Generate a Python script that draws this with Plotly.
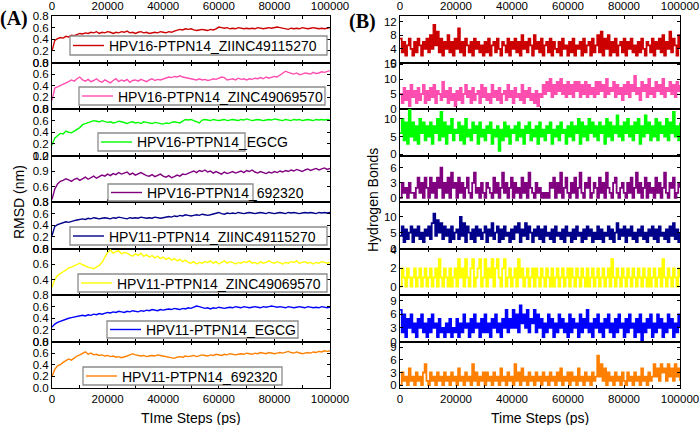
import numpy as np
import plotly.graph_objects as go

W, H = 700, 425

names = ["HPV16-PTPN14_ZIINC49115270", "HPV16-PTPN14_ZINC49069570", "HPV16-PTPN14_EGCG",
         "HPV16-PTPN14_692320", "HPV11-PTPN14_ZIINC49115270", "HPV11-PTPN14_ZINC49069570",
         "HPV11-PTPN14_EGCG", "HPV11-PTPN14_692320"]
colors = ["#CC0000", "#FF4DB0", "#00FF00", "#800080", "#00008B", "#FFFF00", "#0000FF", "#FF8000"]

# ---- RMSD (nm), sampled every 1000 ps ----
rmsd_red = [0.20,0.38,0.41,0.43,0.42,0.45,0.44,0.47,0.46,0.48,0.50,0.49,0.51,0.50,0.52,0.51,0.53,0.50,0.52,0.51,0.53,0.52,0.50,0.52,0.51,0.53,0.52,0.54,0.51,0.52,0.50,0.52,0.53,0.51,0.52,0.50,0.51,0.52,0.51,0.53,0.52,0.51,0.53,0.52,0.54,0.55,0.57,0.56,0.58,0.57,0.58,0.56,0.55,0.56,0.57,0.56,0.55,0.57,0.56,0.58,0.61,0.60,0.59,0.60,0.58,0.59,0.58,0.60,0.59,0.58,0.59,0.58,0.59,0.58,0.60,0.59,0.58,0.59,0.60,0.59,0.60,0.61,0.60,0.59,0.58,0.57,0.59,0.58,0.59,0.58,0.60,0.59,0.58,0.59,0.60,0.59,0.58,0.59,0.58,0.59,0.60]
rmsd_pink = [0.15,0.36,0.38,0.40,0.42,0.45,0.47,0.50,0.48,0.52,0.55,0.50,0.48,0.51,0.47,0.49,0.52,0.48,0.46,0.50,0.48,0.45,0.49,0.52,0.47,0.50,0.48,0.51,0.46,0.49,0.50,0.48,0.51,0.49,0.47,0.50,0.52,0.49,0.51,0.50,0.52,0.53,0.55,0.54,0.56,0.55,0.57,0.55,0.54,0.53,0.52,0.51,0.50,0.52,0.50,0.51,0.49,0.50,0.52,0.51,0.53,0.55,0.54,0.50,0.51,0.52,0.50,0.53,0.51,0.52,0.50,0.52,0.51,0.53,0.52,0.54,0.52,0.55,0.53,0.54,0.56,0.55,0.58,0.62,0.65,0.63,0.61,0.60,0.62,0.59,0.60,0.62,0.61,0.60,0.63,0.61,0.62,0.64,0.63,0.64,0.66]
rmsd_green = [0.18,0.30,0.34,0.38,0.37,0.42,0.40,0.39,0.42,0.45,0.48,0.53,0.55,0.57,0.58,0.60,0.59,0.58,0.60,0.59,0.57,0.58,0.56,0.57,0.59,0.58,0.57,0.55,0.57,0.58,0.56,0.57,0.55,0.58,0.57,0.56,0.55,0.57,0.56,0.55,0.54,0.56,0.55,0.57,0.58,0.57,0.56,0.59,0.62,0.61,0.62,0.60,0.58,0.56,0.61,0.62,0.61,0.60,0.62,0.61,0.60,0.61,0.62,0.60,0.61,0.62,0.61,0.60,0.62,0.61,0.63,0.62,0.60,0.61,0.62,0.61,0.60,0.61,0.62,0.61,0.63,0.62,0.61,0.60,0.62,0.61,0.60,0.62,0.61,0.62,0.60,0.61,0.62,0.61,0.60,0.62,0.61,0.62,0.61,0.62,0.61]
rmsd_purple = [0.35,0.55,0.65,0.70,0.72,0.75,0.73,0.70,0.74,0.76,0.72,0.75,0.78,0.74,0.77,0.80,0.76,0.79,0.82,0.80,0.84,0.81,0.85,0.83,0.87,0.84,0.86,0.88,0.83,0.86,0.82,0.85,0.87,0.84,0.81,0.80,0.83,0.79,0.82,0.84,0.80,0.78,0.81,0.77,0.79,0.82,0.80,0.84,0.83,0.86,0.88,0.90,0.87,0.91,0.89,0.92,0.88,0.90,0.86,0.89,0.87,0.84,0.88,0.85,0.87,0.89,0.86,0.88,0.90,0.87,0.91,0.89,0.92,0.88,0.86,0.89,0.87,0.85,0.88,0.86,0.89,0.87,0.90,0.88,0.91,0.89,0.92,0.90,0.93,0.91,0.89,0.92,0.94,0.91,0.93,0.95,0.92,0.94,0.96,0.93,0.95]
rmsd_navy = [0.22,0.38,0.41,0.43,0.44,0.46,0.45,0.47,0.48,0.49,0.50,0.51,0.50,0.52,0.51,0.53,0.52,0.51,0.52,0.53,0.52,0.51,0.53,0.52,0.54,0.53,0.52,0.51,0.53,0.52,0.53,0.52,0.54,0.53,0.52,0.53,0.52,0.54,0.53,0.52,0.53,0.54,0.55,0.54,0.56,0.55,0.57,0.56,0.58,0.57,0.56,0.57,0.58,0.57,0.59,0.58,0.57,0.58,0.59,0.60,0.62,0.60,0.59,0.61,0.60,0.61,0.60,0.62,0.61,0.60,0.61,0.62,0.61,0.60,0.61,0.62,0.61,0.60,0.62,0.61,0.60,0.61,0.62,0.61,0.60,0.62,0.61,0.62,0.61,0.60,0.61,0.62,0.61,0.62,0.61,0.60,0.62,0.61,0.62,0.61,0.62]
rmsd_yellow = [0.30,0.40,0.45,0.48,0.50,0.52,0.55,0.56,0.58,0.60,0.61,0.59,0.57,0.56,0.55,0.54,0.56,0.58,0.62,0.68,0.75,0.78,0.74,0.76,0.77,0.73,0.75,0.74,0.72,0.70,0.73,0.71,0.74,0.70,0.72,0.69,0.71,0.68,0.70,0.67,0.69,0.66,0.68,0.65,0.67,0.64,0.66,0.63,0.65,0.62,0.61,0.63,0.60,0.62,0.61,0.63,0.62,0.64,0.61,0.63,0.60,0.62,0.64,0.61,0.63,0.62,0.60,0.62,0.61,0.63,0.62,0.64,0.61,0.62,0.60,0.63,0.61,0.62,0.64,0.62,0.61,0.63,0.62,0.60,0.62,0.61,0.63,0.62,0.64,0.61,0.62,0.63,0.61,0.62,0.60,0.62,0.61,0.63,0.62,0.61,0.62]
rmsd_blue = [0.25,0.30,0.33,0.35,0.37,0.39,0.40,0.41,0.42,0.43,0.44,0.45,0.44,0.46,0.45,0.47,0.46,0.48,0.47,0.49,0.50,0.49,0.51,0.50,0.52,0.51,0.50,0.52,0.51,0.53,0.52,0.51,0.53,0.52,0.54,0.53,0.55,0.54,0.53,0.55,0.54,0.55,0.56,0.55,0.57,0.56,0.55,0.57,0.56,0.58,0.57,0.59,0.61,0.60,0.58,0.57,0.58,0.56,0.58,0.57,0.59,0.58,0.57,0.58,0.59,0.58,0.60,0.59,0.58,0.60,0.59,0.58,0.59,0.60,0.59,0.58,0.60,0.59,0.60,0.61,0.60,0.59,0.60,0.59,0.58,0.60,0.59,0.58,0.59,0.60,0.59,0.58,0.60,0.59,0.58,0.59,0.58,0.60,0.59,0.58,0.59]
rmsd_orange = [0.20,0.32,0.38,0.40,0.44,0.47,0.50,0.48,0.52,0.55,0.57,0.60,0.62,0.58,0.60,0.57,0.58,0.56,0.57,0.55,0.56,0.54,0.55,0.53,0.54,0.52,0.53,0.55,0.57,0.59,0.57,0.56,0.55,0.56,0.54,0.55,0.56,0.55,0.57,0.56,0.55,0.54,0.53,0.52,0.51,0.53,0.54,0.53,0.55,0.54,0.55,0.56,0.54,0.55,0.57,0.56,0.55,0.57,0.56,0.58,0.57,0.56,0.58,0.57,0.59,0.58,0.57,0.58,0.59,0.58,0.60,0.59,0.58,0.60,0.59,0.61,0.60,0.59,0.61,0.60,0.59,0.60,0.61,0.60,0.62,0.63,0.61,0.60,0.62,0.60,0.59,0.60,0.61,0.60,0.62,0.61,0.63,0.62,0.64,0.63,0.64]

# ---- Hydrogen bonds (count) ----
hb_red = [7,3,6,2,5,7,4,2,6,3,7,5,2,6,4,7, 3,8,4,11,5,9,3,7,2,6,4,8,3,6,2,7, 4,10,3,6,2,7,5,3,6,2,7,4,6,3,5,2, 6,3,7,2,5,6,3,7,4,2,6,5,3,7,2,6, 4,7,3,6,2,8,4,6,3,7,5,2,8,4,6,3, 7,2,5,6,3,7,2,6,4,3,6,2,7,4,5,2, 6,3,7,2,5,4,6,2,7,3,5,6,2,7,3,5, 8,3,9,2,7,4,8,2,6,3,7,2,5,6,3,7, 2,6,4,7,3,5,2,6,3,7,4,2,6,5,3,7, 2,6,4,7,3,8,2,6,4,9,3,7,5,2,8,4]
hb_pink = [5,2,7,3,6,1,8,4,6,2,7,3,5,8,2,6, 3,7,4,8,2,6,5,3,9,4,6,2,7,3,5,1, 6,3,7,2,5,8,4,6,2,7,3,5,6,2,8,4, 7,3,5,2,8,4,6,3,7,2,5,6,3,8,4,6, 2,7,4,5,3,8,2,6,4,7,3,5,2,6,1,5, 4,8,5,9,6,10,4,8,5,9,6,10,5,8,4,9, 5,8,4,9,6,9,4,8,5,9,4,8,5,7,4,9, 5,9,6,8,4,10,5,7,6,9,4,8,5,7,3,8, 5,9,4,8,6,11,5,7,3,9,6,8,4,10,5,7, 4,9,6,8,5,10,4,7,6,9,5,8,4,9,6,8]
hb_green = [6,10,4,9,3,13,5,9,4,8,3,10,6,9,4,8, 5,9,3,8,6,10,4,12,5,9,3,8,6,10,4,7, 6,9,4,8,3,10,5,7,4,9,6,8,3,9,5,7, 4,8,6,9,3,7,5,8,1,7,4,9,5,8,3,7, 6,8,4,9,5,7,3,8,6,9,4,7,5,8,3,9, 5,7,4,8,6,9,3,7,5,8,4,9,6,7,3,8, 5,9,4,8,6,10,3,9,5,8,4,10,6,9,5,8, 4,9,6,8,3,10,5,9,4,8,6,11,5,8,4,9, 6,10,5,8,4,9,6,10,3,8,5,11,6,9,4,8, 5,10,4,9,6,8,5,10,4,9,6,12,5,8,4,9]
hb_purple = [0,3,1,2,0,3,1,1,0,2,4,1,3,0,4,2, 0,4,1,3,0,4,2,6,0,3,1,4,0,5,2,3, 0,4,1,3,0,2,4,1,0,3,5,1,2,0,3,1, 0,3,2,1,0,4,1,3,0,2,5,1,3,0,2,4, 0,3,1,2,0,4,1,3,0,5,2,1,0,3,1,2, 0,1,0,1,0,3,2,4,0,3,1,5,0,2,4,1, 0,3,1,4,0,2,5,1,0,3,2,4,0,1,3,2, 0,4,1,3,0,5,2,1,0,3,4,1,0,2,3,1, 0,3,1,4,0,2,5,1,3,0,2,4,0,3,1,2, 0,4,1,3,0,2,5,1,0,3,2,4,0,1,3,2]
hb_navy = [4,7,2,6,3,5,7,2,6,4,7,3,5,2,6,4, 7,3,8,11,4,9,5,8,3,7,4,6,2,7,3,5, 6,3,10,4,8,2,7,5,3,6,2,7,4,6,3,5, 7,2,6,4,8,3,5,7,2,6,3,7,4,5,2,6, 3,7,5,8,2,6,4,8,3,7,5,2,6,4,7,3, 6,2,7,4,5,3,6,2,7,4,5,3,6,2,7,4, 5,2,6,3,7,4,5,2,6,3,7,4,6,2,5,3, 7,3,6,2,5,4,7,3,6,2,5,8,3,6,4,7, 2,6,4,7,3,5,2,6,4,7,3,5,2,6,4,7, 3,6,2,7,4,5,3,6,2,7,4,8,3,6,2,5]
hb_yellow = [0,2,1,0,2,1,0,1,2,0,1,2,0,1,2,0, 1,2,0,1,2,0,3,1,0,2,1,0,2,0,1,2, 0,3,1,2,0,3,1,0,2,3,0,1,2,3,0,1, 3,0,2,1,3,0,2,3,1,0,2,3,0,1,2,0, 1,2,0,3,1,2,0,1,2,0,1,2,0,2,1,0, 2,1,0,2,1,0,2,0,1,2,0,1,2,0,1,2, 0,2,1,0,2,1,0,2,1,0,2,0,1,2,0,1, 2,0,1,2,0,1,2,0,3,1,0,2,1,0,2,1, 0,2,1,0,2,1,0,2,1,0,2,1,0,2,0,1, 2,0,1,2,0,3,1,0,2,1,0,2,1,0,2,1]
hb_blue = [7,2,6,1,5,3,6,2,4,1,5,3,6,2,4,1, 5,2,6,3,4,1,5,2,3,1,4,2,5,1,3,2, 5,1,4,2,6,3,4,1,5,2,6,3,4,1,5,2, 6,2,4,1,5,3,6,2,4,1,5,3,7,2,5,3, 7,3,6,2,8,4,6,3,7,2,5,4,7,2,6,3, 5,1,4,2,6,3,5,1,4,2,6,3,5,2,4,1, 6,2,5,3,4,1,6,2,5,3,7,2,4,1,5,3, 6,2,4,1,5,3,6,2,4,1,5,2,6,3,4,1, 5,2,6,3,4,1,5,2,6,0,4,2,5,3,6,1, 4,2,6,3,5,1,4,2,6,3,5,1,4,2,6,3]
hb_orange = [0,3,1,2,0,4,1,2,0,3,1,2,0,3,5,1, 0,3,1,2,0,3,1,2,0,3,1,2,0,3,1,2, 0,4,1,2,0,3,1,2,0,5,1,3,0,2,1,3, 0,3,1,2,0,3,1,2,0,4,1,2,0,3,1,2, 0,5,1,3,0,4,1,2,0,3,1,2,0,3,1,2, 0,3,1,2,0,3,1,2,0,3,1,4,0,2,1,3, 0,3,1,2,0,4,1,2,0,3,1,2,0,3,1,2, 7,2,5,1,4,0,3,1,2,0,3,1,2,0,3,1, 0,3,1,2,0,3,1,2,0,4,1,2,0,3,1,2, 5,2,4,1,5,3,4,1,5,2,4,1,5,2,4,1]

rmsd_series = [rmsd_red, rmsd_pink, rmsd_green, rmsd_purple, rmsd_navy, rmsd_yellow, rmsd_blue, rmsd_orange]
hb_series = [hb_red, hb_pink, hb_green, hb_purple, hb_navy, hb_yellow, hb_blue, hb_orange]

rmsd_ranges = [[0, 0.8], [0, 0.8], [0, 0.8], [0.3, 1.2], [0, 0.8], [0.2, 0.8], [0, 0.8], [0, 0.8]]
rmsd_ticks = [[0, 0.2, 0.4, 0.6, 0.8]] * 3 + [[0.3, 0.6, 0.9, 1.2]] + [[0, 0.2, 0.4, 0.6, 0.8]] + \
             [[0.4, 0.6, 0.8]] + [[0, 0.2, 0.4, 0.6, 0.8]] * 2
hb_ranges = [[0, 13.6], [0, 15.5], [-0.3, 12.8], [-0.8, 8.4], [0, 14.7], [-0.9, 4.15], [0, 10.3], [-0.7, 10.4]]
hb_ticks = [[0, 4, 8, 12], [0, 5, 10, 15], [0, 5, 10], [0, 3, 6], [0, 5, 10], [0, 2, 4], [0, 3, 6, 9], [0, 3, 6, 9]]

# legend boxes (left, top, right, bottom) in px
legend_box = [(70, 36, 327, 55), (79, 87, 325, 105), (98, 133, 245, 151), (108, 184, 253, 201),
              (70, 227, 327, 245), (78, 274, 327, 292), (107, 321, 298, 338), (83, 367, 282, 385)]

FONT = "Liberation Sans, Arial, sans-serif"
top_px, bot_px = 16, 388
ph = (bot_px - top_px) / 8.0
L_dom = [52 / W, 330 / W]
R_dom = [400 / W, 680 / W]


def py(p):
    return 1 - p / H


def px(p):
    return p / W


fig = go.Figure()
layout = dict(
    width=W, height=H, margin=dict(l=0, r=0, t=0, b=0, autoexpand=False),
    paper_bgcolor="white", plot_bgcolor="white",
    font=dict(family=FONT, size=12, color="black"),
    showlegend=False,
)
shapes = []
annotations = []

for i in range(8):
    y_hi = py(top_px + i * ph)
    y_lo = py(top_px + (i + 1) * ph)
    for side, dom in (("L", L_dom), ("R", R_dom)):
        k = 2 * i + 1 if side == "L" else 2 * i + 2
        xn = "xaxis" if k == 1 else f"xaxis{k}"
        yn = "yaxis" if k == 1 else f"yaxis{k}"
        xr = "x" if k == 1 else f"x{k}"
        yr = "y" if k == 1 else f"y{k}"
        if i == 0:
            xside, showlab = "top", True
        elif i == 7:
            xside, showlab = "bottom", True
        else:
            xside, showlab = "bottom", False
        layout[xn] = dict(
            domain=dom, anchor=yr, range=[0, 100000], side=xside, automargin=False,
            showgrid=False, zeroline=False, showline=True, linecolor="black", linewidth=1,
            mirror="allticks", ticks="inside", ticklen=3, tickcolor="black",
            tickvals=[0, 20000, 40000, 60000, 80000, 100000],
            ticktext=["0", "20000", "40000", "60000", "80000", "100000"],
            minor=dict(tickvals=[10000, 30000, 50000, 70000, 90000], ticks="inside", ticklen=3,
                       tickcolor="black", showgrid=False),
            showticklabels=showlab, tickfont=dict(size=11.5, family=FONT, color="black"),
        )
        if side == "L":
            rng, tv = rmsd_ranges[i], rmsd_ticks[i]
            ttxt = [f"{v:.1f}" for v in tv]
        else:
            rng, tv = hb_ranges[i], hb_ticks[i]
            ttxt = [str(v) for v in tv]
        layout[yn] = dict(
            domain=[y_lo, y_hi], anchor=xr, range=rng, automargin=False,
            showgrid=False, zeroline=False, showline=True, linecolor="black", linewidth=1,
            mirror="allticks", ticks="inside", ticklen=3, tickcolor="black",
            tickvals=tv, ticktext=ttxt, tickfont=dict(size=11.5, family=FONT, color="black"),
        )
        if side == "L":
            vals = rmsd_series[i]
            x = np.linspace(0, 100000, len(vals))
            fig.add_trace(go.Scatter(x=x, y=vals, mode="lines", name=names[i],
                                     line=dict(color=colors[i], width=1.4),
                                     xaxis=xr, yaxis=yr, showlegend=False))
            # hand-drawn legend box
            l, t, r, b = legend_box[i]
            ym = (t + b) / 2.0
            shapes.append(dict(type="rect", xref="paper", yref="paper",
                               x0=px(l), x1=px(r), y0=py(b), y1=py(t),
                               line=dict(color="#8c8c8c", width=1.3), fillcolor="white", layer="above"))
            shapes.append(dict(type="line", xref="paper", yref="paper",
                               x0=px(l + 3), x1=px(l + 34), y0=py(ym), y1=py(ym),
                               line=dict(color=colors[i], width=1.4), layer="above"))
            annotations.append(dict(text=names[i], x=px(l + 37), y=py(ym + 0.5), xref="paper", yref="paper",
                                    xanchor="left", yanchor="middle", showarrow=False,
                                    font=dict(family=FONT, size=14, color="black")))
        else:
            vals = hb_series[i]
            x = np.linspace(0, 100000, len(vals))
            fig.add_trace(go.Scatter(x=x, y=vals, mode="lines", name=names[i] + " HB",
                                     line=dict(color=colors[i], width=1.8, shape="hv"),
                                     xaxis=xr, yaxis=yr, showlegend=False))


def label(text, x, y, size, angle=0, family=FONT):
    return dict(text=text, x=px(x), y=py(y), xref="paper", yref="paper", showarrow=False,
                xanchor="center", yanchor="middle", textangle=angle,
                font=dict(family=family, size=size, color="black"))


SERIF = "Liberation Serif, Times New Roman, serif"
annotations += [
    label("<b>(A)</b>", 14, 19, 20, family=SERIF),
    label("<b>(B)</b>", 362, 21, 20, family=SERIF),
    label("RMSD (nm)", 19, 202, 14, angle=-90),
    label("Hydrogen Bonds", 373, 200, 14, angle=-90),
    label("TIme Steps (ps)", 191, 418, 14),
    label("Time Steps (ps)", 540, 418, 14),
]
layout["annotations"] = annotations
layout["shapes"] = shapes
fig.update_layout(**layout)
fig.write_html("out.html", config={"displayModeBar": False},
               post_script="document.body.style.margin='0px';document.body.style.overflow='hidden';")
